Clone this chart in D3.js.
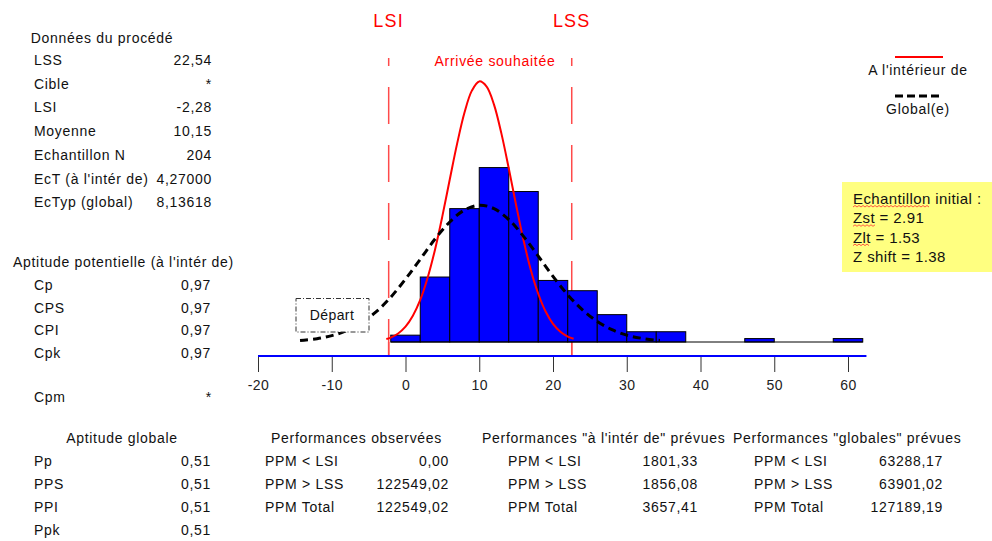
<!DOCTYPE html>
<html>
<head>
<meta charset="utf-8">
<script src="https://cdn.jsdelivr.net/npm/d3@7"></script>
<style>
  body { margin: 0; background: #fff; }
  svg { font-family: "Liberation Sans", Arial, sans-serif; }
</style>
</head>
<body>
<svg id="chart" width="992" height="541"></svg>
<script>
// histogram (bin width 4)
var binStarts = [-2, 2, 6, 10, 14, 18, 22, 26, 30, 34, 38, 42, 46, 50, 54, 58];
var binCounts = [2, 19, 39, 51, 44, 18, 15, 8, 3, 3, 0, 0, 1, 0, 0, 1];
var binWidth = 4;

// fitted curves (counts per bin)
var withinX = [-2.6, -2, -1, 0, 1, 2, 3, 4, 5, 6, 7, 8, 9, 10, 11, 12, 13, 14, 15, 16, 17, 18, 19, 20, 21, 22, 22.8];
var withinY = [0.9, 1.3, 2.5, 4.5, 7.7, 12.3, 18.8, 27.0, 36.8, 47.5, 58.0, 67.1, 73.5, 76.2, 74.7, 69.4, 61.0, 50.8, 40.0, 29.8, 21.0, 14.1, 8.9, 5.3, 3.0, 1.6, 0.95];
var globalX = [-14.3, -12, -10, -8, -6, -4, -2, 0, 2, 4, 6, 8, 10, 12, 14, 16, 18, 20, 22, 24, 26, 28, 30, 32, 34, 34.5];
var globalY = [0.46, 0.98, 1.86, 3.3, 5.6, 8.8, 13.1, 18.4, 24.2, 30.1, 35.1, 38.6, 40.0, 39.0, 35.8, 30.9, 25.1, 19.2, 13.8, 9.4, 6.0, 3.6, 2.0, 1.09, 0.54, 0.46];

var lsl = -2.28, usl = 22.54;
var xTicks = [-20, -10, 0, 10, 20, 30, 40, 50, 60];

// text panels
var procLabels = ["LSS", "Cible", "LSI", "Moyenne", "Echantillon N", "EcT (à l'intér de)", "EcTyp (global)"];
var procValues = ["22,54", "*", "-2,28", "10,15", "204", "4,27000", "8,13618"];
var potLabels = ["Cp", "CPS", "CPI", "Cpk"];
var potValues = ["0,97", "0,97", "0,97", "0,97"];
var globLabels = ["Pp", "PPS", "PPI", "Ppk"];
var globValues = ["0,51", "0,51", "0,51", "0,51"];
var ppmLabels = ["PPM < LSI", "PPM > LSS", "PPM Total"];
var obsValues = ["0,00", "122549,02", "122549,02"];
var withinValues = ["1801,33", "1856,08", "3657,41"];
var overallValues = ["63288,17", "63901,02", "127189,19"];
var noteLines = ["Echantillon initial :", "Zst = 2.91", "Zlt = 1.53", "Z shift = 1.38"];

var svg = d3.select("#chart");

var fs = 14, ls = 0.7;   // text size / letter spacing of the panels

var x = d3.scaleLinear().domain([-20, 60]).range([258, 848]);
var y = d3.scaleLinear().domain([0, 80]).range([342, 68.4]);

var axisY = 356;

// spec limit lines (dashed from the axis upward)
[lsl, usl].forEach(function(v) {
    svg.append("line")
        .attr("x1", x(v)).attr("x2", x(v))
        .attr("y1", axisY).attr("y2", 58)
        .attr("stroke", "#ff4a4a")
        .attr("stroke-width", 1.5)
        .attr("stroke-dasharray", "37,21");
    svg.append("line")
        .attr("x1", x(v)).attr("x2", x(v))
        .attr("y1", axisY).attr("y2", y(0))
        .attr("stroke", "#ff4a4a")
        .attr("stroke-width", 1.5);
});

// bars
svg.selectAll("rect.bar")
    .data(binStarts)
    .enter().append("rect")
    .attr("class", "bar")
    .attr("x", function(d) { return x(d); })
    .attr("width", function(d) { return x(d + binWidth) - x(d); })
    .attr("y", function(d, i) { return y(binCounts[i]); })
    .attr("height", function(d, i) { return y(0) - y(binCounts[i]); })
    .attr("fill", "#0000ff")
    .attr("stroke", "#000")
    .attr("stroke-width", 1);

svg.append("line")
    .attr("x1", x(binStarts[0])).attr("x2", x(binStarts[binStarts.length - 1] + binWidth))
    .attr("y1", y(0)).attr("y2", y(0))
    .attr("stroke", "#000");

var line = d3.line()
    .x(function(d) { return x(d[0]); })
    .y(function(d) { return y(d[1]); })
    .curve(d3.curveCatmullRom);

svg.append("path")
    .datum(d3.zip(withinX, withinY))
    .attr("d", line)
    .attr("fill", "none")
    .attr("stroke", "#ff0000")
    .attr("stroke-width", 2);

svg.append("path")
    .datum(d3.zip(globalX, globalY))
    .attr("d", line)
    .attr("fill", "none")
    .attr("stroke", "#000")
    .attr("stroke-width", 3)
    .attr("stroke-dasharray", "8,5");

// axis
svg.append("line")
    .attr("x1", x(-20)).attr("x2", x(62.5))
    .attr("y1", axisY).attr("y2", axisY)
    .attr("stroke", "#0000ff")
    .attr("stroke-width", 2);

var ax = svg.append("g")
    .attr("transform", "translate(0," + (axisY + 1) + ")")
    .call(d3.axisBottom(x).tickValues(xTicks).tickSize(15).tickPadding(8).tickFormat(d3.format("d")));
ax.select(".domain").remove();
ax.selectAll(".tick line").attr("stroke", "#333");
ax.selectAll(".tick text")
    .attr("font-family", "Liberation Sans, Arial, sans-serif")
    .attr("font-size", 14)
    .attr("letter-spacing", 0.4)
    .attr("fill", "#222")
    .text(function(d) { return d < 0 ? "-" + Math.abs(d) : d; });

// top labels
svg.append("text").attr("x", x(lsl)).attr("y", 27).attr("text-anchor", "middle")
    .attr("fill", "#ff0000").attr("font-size", 18).attr("letter-spacing", 1.2).text("LSI");
svg.append("text").attr("x", x(usl)).attr("y", 27).attr("text-anchor", "middle")
    .attr("fill", "#ff0000").attr("font-size", 18).attr("letter-spacing", 1.2).text("LSS");
svg.append("text").attr("x", 495).attr("y", 66).attr("text-anchor", "middle")
    .attr("fill", "#ff0000").attr("font-size", fs).attr("letter-spacing", ls).text("Arrivée souhaitée");

// "Départ" box
svg.append("rect")
    .attr("x", 296).attr("y", 298.5).attr("width", 73).attr("height", 33.5)
    .attr("fill", "#fff")
    .attr("stroke", "#333")
    .attr("stroke-dasharray", "5,2,1,2");
svg.append("text").attr("x", 332).attr("y", 320).attr("text-anchor", "middle")
    .attr("font-size", fs).attr("letter-spacing", 0.4).attr("fill", "#111").text("Départ");

// legend
svg.append("line").attr("x1", 895).attr("x2", 943).attr("y1", 57).attr("y2", 57)
    .attr("stroke", "#ff0000").attr("stroke-width", 2);
svg.append("text").attr("x", 918).attr("y", 75).attr("text-anchor", "middle")
    .attr("font-size", fs).attr("letter-spacing", ls).attr("fill", "#111").text("A l'intérieur de");
svg.append("line").attr("x1", 895).attr("x2", 939).attr("y1", 96).attr("y2", 96)
    .attr("stroke", "#000").attr("stroke-width", 3).attr("stroke-dasharray", "8,4");
svg.append("text").attr("x", 918).attr("y", 114).attr("text-anchor", "middle")
    .attr("font-size", fs).attr("letter-spacing", ls).attr("fill", "#111").text("Global(e)");

// yellow note
svg.append("rect").attr("x", 842).attr("y", 182).attr("width", 150).attr("height", 90)
    .attr("fill", "#ffff80");
var notes = svg.selectAll("text.note")
    .data(noteLines)
    .enter().append("text")
    .attr("class", "note")
    .attr("x", 853)
    .attr("y", function(d, i) { return 204 + i * 19.3; })
    .attr("font-size", 15)
    .attr("letter-spacing", 0.4)
    .attr("fill", "#111")
    .text(function(d) { return d; });

// spell-check squiggles under first words
function squiggle(x0, x1, yy) {
    var p = "M" + x0 + "," + yy;
    var up = true;
    for (var xx = x0 + 2; xx <= x1; xx += 2) {
        p += "L" + xx + "," + (up ? yy - 1.5 : yy);
        up = !up;
    }
    svg.append("path").attr("d", p).attr("fill", "none")
        .attr("stroke", "#ff3030").attr("stroke-width", 0.8);
}
notes.each(function(d, i) {
    if (i > 2) return;
    var word = d.split(" ")[0];
    var tmp = svg.append("text").attr("font-size", 15).attr("letter-spacing", 0.4).text(word);
    var w = tmp.node().getComputedTextLength();
    tmp.remove();
    squiggle(853, 853 + w, 207 + i * 19.3);
});

// generic label/value table
function table(labels, values, lx, vx, y0, dy) {
    var g = svg.append("g").attr("font-size", fs).attr("letter-spacing", ls).attr("fill", "#111");
    g.selectAll("text.l").data(labels).enter().append("text")
        .attr("x", lx).attr("y", function(d, i) { return y0 + i * dy; })
        .text(function(d) { return d; });
    g.selectAll("text.v").data(values).enter().append("text")
        .attr("x", vx).attr("y", function(d, i) { return y0 + i * dy; })
        .attr("text-anchor", "end")
        .text(function(d) { return d; });
}

function title(txt, tx, ty, anchor) {
    svg.append("text").attr("x", tx).attr("y", ty).attr("text-anchor", anchor || "start")
        .attr("font-size", fs).attr("letter-spacing", ls).attr("fill", "#111").text(txt);
}

title("Données du procédé", 102, 43, "middle");
table(procLabels, procValues, 34, 212, 65, 23.7);

title("Aptitude potentielle (à l'intér de)", 13, 267);
table(potLabels, potValues, 34, 211, 290, 22.7);
table(["Cpm"], ["*"], 34, 212, 402, 0);

title("Aptitude globale", 122, 443, "middle");
table(globLabels, globValues, 34, 211, 466, 23);

title("Performances observées", 271, 443);
table(ppmLabels, obsValues, 265, 449, 466, 23);

title("Performances \"à l'intér de\" prévues", 482, 443);
table(ppmLabels, withinValues, 508, 698, 466, 23);

title("Performances \"globales\" prévues", 733, 443);
table(ppmLabels, overallValues, 754, 943, 466, 23);
</script>
</body>
</html>
